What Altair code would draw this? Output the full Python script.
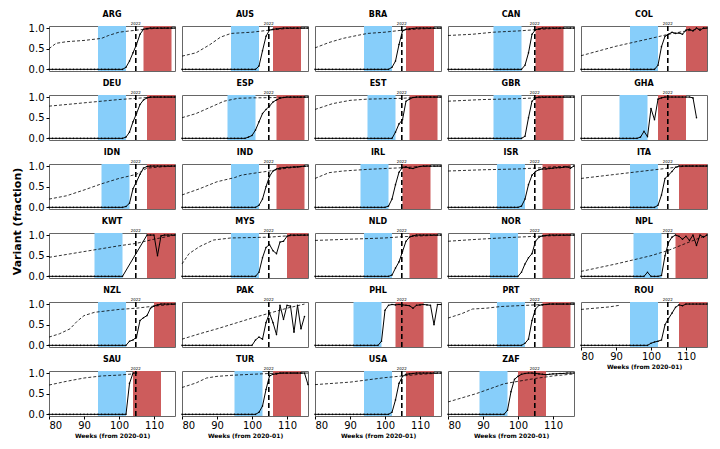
import altair as alt
import pandas as pd

COUNTRIES = ["ARG", "AUS", "BRA", "CAN", "COL",
             "DEU", "ESP", "EST", "GBR", "GHA",
             "IDN", "IND", "IRL", "ISR", "ITA",
             "KWT", "MYS", "NLD", "NOR", "NPL",
             "NZL", "PAK", "PHL", "PRT", "ROU",
             "SAU", "TUR", "USA", "ZAF"]

# shaded windows (weeks from 2020-01)
BLUE = {"ARG": (94, 102), "AUS": (94, 102), "BRA": (94, 102), "CAN": (93, 101), "COL": (94, 102),
        "DEU": (94, 102), "ESP": (93, 101), "EST": (95, 103), "GBR": (93, 101), "GHA": (91, 99),
        "IDN": (95, 103), "IND": (94, 102), "IRL": (93, 101), "ISR": (94, 102), "ITA": (94, 102),
        "KWT": (93, 101), "MYS": (94, 102), "NLD": (94, 102), "NOR": (92, 100), "NPL": (95, 103),
        "NZL": (94, 102), "PHL": (91, 99), "PRT": (94, 102), "ROU": (94, 102),
        "SAU": (94, 102), "TUR": (95, 103), "USA": (94, 102), "ZAF": (89, 97)}
RED = {"ARG": (107, 115), "AUS": (106, 114), "BRA": (106, 114), "CAN": (105, 113), "COL": (110, 116),
       "DEU": (108, 116), "ESP": (107, 115), "EST": (107, 115), "GBR": (105, 113), "GHA": (102, 110),
       "IDN": (108, 116), "IND": (107, 115), "IRL": (105, 113), "ISR": (107, 115), "ITA": (108, 116),
       "KWT": (108, 116), "MYS": (110, 116), "NLD": (107, 115), "NOR": (107, 115), "NPL": (107, 116),
       "NZL": (110, 116), "PHL": (103, 111), "PRT": (107, 115), "ROU": (108, 116),
       "SAU": (104, 112), "TUR": (106, 114), "USA": (106, 114), "ZAF": (100, 108)}

VLINE_WEEK = 104.8
VLINE_LABEL = "2022"
FIRST_WEEK = 80

# variant fraction: value is 0 from week 80 up to SOLID_START-1, then these weekly values (None = no sample)
SOLID_START = {"ARG": 102, "AUS": 102, "BRA": 102, "CAN": 102, "COL": 102,
               "DEU": 102, "ESP": 99, "EST": 103, "GBR": 102, "GHA": 97,
               "IDN": 102, "IND": 102, "IRL": 101, "ISR": 101, "ITA": 102,
               "KWT": 102, "MYS": 102, "NLD": 102, "NOR": 101, "NPL": 99,
               "NZL": 103, "PAK": 101, "PHL": 99, "PRT": 102, "ROU": 100,
               "SAU": 103, "TUR": 102, "USA": 102, "ZAF": 97}
SOLID = {
    "ARG": [0.05, 0.2, 0.4, 0.6, 0.85, 0.97, 0.99, 1.0, 1.0, 1.0, 1.0, 1.0, 1.0, 1.0, 1.0],
    "AUS": [0.08, 0.45, 0.8, 0.95, 0.97, 0.98, 0.99, 1.0, 1.0, 1.0, 1.0, 1.0, 1.0, 1.0, 1.0],
    "BRA": [0.05, 0.2, 0.6, 0.93, 0.97, 0.98, 0.99, 1.0, 1.0, 1.0, 1.0, 1.0, 1.0, 1.0, 1.0],
    "CAN": [0.1, 0.4, 0.85, 0.96, 0.98, 1.0, 1.0, 1.0, 1.0, 1.0, 1.0, 1.0, 1.0, 1.0, 1.0],
    "COL": [0.1, 0.55, 0.8, 0.85, 0.9, 0.87, 0.88, 0.85, 0.95, 0.97, 0.93, 1.0, 0.95, 1.0, 1.0],
    "DEU": [0.03, 0.15, 0.4, 0.6, 0.82, 0.93, 0.98, 1.0, 1.0, 1.0, 1.0, 1.0, 1.0, 1.0, 1.0],
    "ESP": [0.03, 0.07, 0.2, 0.4, 0.6, 0.7, 0.78, 0.88, 0.93, 0.97, 0.99, 1.0, 1.0, 1.0, 1.0, 1.0, 1.0, 1.0],
    "EST": [0.15, 0.35, 0.45, 0.9, 0.95, 0.99, 1.0, 1.0, 1.0, 1.0, 1.0, 1.0, 1.0, 1.0],
    "GBR": [0.05, 0.5, 0.9, 0.98, 1.0, 1.0, 1.0, 1.0, 1.0, 1.0, 1.0, 1.0, 1.0, 1.0, 1.0],
    "GHA": [0.03, 0.17, 0.04, 0.72, 0.45, 0.95, 0.98, 1.0, 1.0, 1.0, 1.0, 1.0, 1.0, 1.0, 1.0, 0.98, 0.5],
    "IDN": [0.02, 0.1, 0.45, 0.62, 0.8, 0.95, 0.99, 1.0, 1.0, 1.0, 1.0, 1.0, 1.0, 1.0, 1.0],
    "IND": [0.05, 0.2, 0.5, 0.75, 0.88, 0.93, 0.95, 0.96, 0.97, 0.97, 0.98, 0.98, 0.99, 1.0, 1.0],
    "IRL": [0.03, 0.2, 0.55, 0.85, 0.97, 0.98, 0.95, 0.94, 0.97, 0.99, 1.0, 1.0, 1.0, 1.0, 1.0, 1.0],
    "ISR": [0.03, 0.2, 0.55, 0.78, 0.87, 0.91, 0.93, 0.93, 0.94, 0.95, 0.96, 0.96, 0.97, 0.98, 0.95, 1.0],
    "ITA": [0.05, 0.3, 0.7, 0.78, 0.87, 0.97, 1.0, 1.0, 1.0, 1.0, 1.0, 1.0, 1.0, 1.0, 1.0],
    "KWT": [None, None, None, None, None, None, 1.0, 1.0, 1.0, 0.5, 0.98, 1.0, 1.0, 1.0, 1.0],
    "MYS": [0.1, 0.45, 0.7, 0.77, 0.62, 0.55, 0.83, 0.85, 0.97, 1.0, 1.0, 1.0, 1.0, 1.0, 1.0],
    "NLD": [0.03, 0.2, 0.35, 0.6, 0.85, 0.95, 0.98, 1.0, 1.0, 1.0, 1.0, 1.0, 1.0, 1.0, 1.0],
    "NOR": [0.1, 0.3, 0.45, 0.55, 0.85, 0.95, 0.98, 0.99, 1.0, 1.0, 1.0, 1.0, 1.0, 1.0, 1.0, 1.0],
    "NPL": [0.1, 0.0, 0.0, 0.0, 0.02, 0.5, 0.82, 0.95, 1.0, 0.97, 0.9, 0.97, 0.87, 1.0, 0.75, 1.0, 0.95, 1.0],
    "NZL": [0.1, 0.13, 0.2, 0.6, 0.67, 0.72, 0.9, 0.95, 0.98, 1.0, 1.0, 1.0, 1.0, 1.0],
    "PAK": [0.13, 0.2, 0.15, 0.55, 0.78, 0.55, 0.26, 0.97, 0.63, 0.97, 0.95, 0.32, 0.97, 0.4, 0.7],
    "PHL": [0.1, 0.85, 0.97, 0.99, 0.98, 0.99, 0.98, 0.97, 0.96, 0.9, 0.97, 0.98, 0.99, 0.98, 0.97, 0.5, 0.99, 0.99],
    "PRT": [0.05, 0.15, 0.6, 0.88, 0.97, 0.98, 0.99, 1.0, 1.0, 1.0, 1.0, 1.0, 1.0, 1.0, 1.0],
    "ROU": [0.05, 0.08, 0.1, 0.13, 0.5, 0.65, 0.78, 0.92, 0.98, 0.96, 1.0, 1.0, 1.0, 1.0, 1.0, 1.0, 1.0],
    "SAU": [0.75, 1.0, 1.0],
    "TUR": [0.05, 0.2, 0.6, 0.93, 0.97, 0.98, 1.0, 1.0, 1.0, 1.0, 1.0, 1.0, 1.0, 1.0, 0.72],
    "USA": [0.05, 0.35, 0.75, 0.92, 0.97, 0.98, 0.99, 1.0, 1.0, 1.0, 1.0, 1.0, 1.0, 1.0, 1.0],
    "ZAF": [0.1, 0.55, 0.85, 0.92, 0.97, 0.99, 1.0, 1.0, 0.99, 0.98, 0.97, 0.96, 0.97, 0.98, 0.98, 0.99, 0.99, 1.0, 1.0, 1.0],
}

# dashed reference curve (week, value)
DASHED_WEEKS = {
    "ARG": [80, 82, 85, 90, 95, 97, 100, 105, 110, 116],
    "AUS": [80, 84, 88, 91, 94, 100, 105, 110, 116],
    "BRA": [80, 84, 88, 92, 95, 100, 105, 110, 116],
    "CAN": [80, 87, 93, 100, 105, 110, 116],
    "COL": [80, 90, 100, 105, 110, 116],
    "DEU": [80, 90, 100, 105, 110, 116],
    "ESP": [80, 84, 88, 92, 96, 100, 116],
    "EST": [80, 85, 90, 95, 100, 105, 110, 116],
    "GBR": [80, 90, 100, 105, 110, 116],
    "IDN": [80, 85, 90, 95, 100, 105, 108, 112, 116],
    "IND": [80, 85, 90, 95, 97, 100, 105, 110, 116],
    "IRL": [80, 84, 88, 95, 100, 105, 110, 116],
    "ISR": [80, 90, 100, 105, 110, 116],
    "ITA": [80, 90, 100, 105, 110, 116],
    "KWT": [80, 90, 100, 105, 110, 116],
    "MYS": [80, 82, 85, 89, 94, 100, 105, 110, 116],
    "NLD": [80, 90, 100, 105, 116],
    "NOR": [80, 87, 95, 105, 116],
    "NPL": [80, 90, 100, 105, 110, 116],
    "NZL": [80, 83, 86, 88, 90, 93, 96, 100, 105, 110, 116],
    "PAK": [80, 85, 90, 95, 100, 105, 110, 115],
    "PRT": [80, 84, 87, 91, 95, 100, 105, 110, 116],
    "ROU": [80, 84, 88, 91],
    "SAU": [80, 85, 90, 95, 100, 104],
    "TUR": [80, 84, 87, 90, 95, 100, 105, 110, 116],
    "USA": [80, 90, 100, 105, 110, 116],
    "ZAF": [80, 84, 88, 92, 96, 100, 105, 110, 116],
}
DASHED_VALUES = {
    "ARG": [0.5, 0.63, 0.67, 0.7, 0.75, 0.82, 0.9, 0.95, 0.99, 1.0],
    "AUS": [0.32, 0.4, 0.6, 0.78, 0.87, 0.9, 0.95, 0.99, 1.0],
    "BRA": [0.52, 0.65, 0.75, 0.82, 0.87, 0.9, 0.95, 0.98, 1.0],
    "CAN": [0.82, 0.85, 0.9, 0.93, 0.96, 0.99, 1.0],
    "COL": [0.33, 0.56, 0.75, 0.85, 0.93, 1.0],
    "DEU": [0.78, 0.86, 0.94, 0.97, 1.0, 1.0],
    "ESP": [0.5, 0.6, 0.75, 0.9, 0.97, 0.98, 1.0],
    "EST": [0.7, 0.84, 0.92, 0.95, 0.96, 0.97, 1.0, 1.0],
    "GBR": [0.9, 0.94, 0.96, 0.98, 1.0, 1.0],
    "IDN": [0.2, 0.28, 0.42, 0.57, 0.7, 0.8, 0.95, 0.98, 1.0],
    "IND": [0.3, 0.45, 0.62, 0.72, 0.78, 0.82, 0.88, 0.95, 1.0],
    "IRL": [0.7, 0.84, 0.88, 0.92, 0.94, 0.96, 0.99, 1.0],
    "ISR": [0.88, 0.91, 0.93, 0.95, 0.98, 1.0],
    "ITA": [0.7, 0.8, 0.9, 0.95, 1.0, 1.0],
    "KWT": [0.46, 0.6, 0.74, 0.8, 0.9, 1.0],
    "MYS": [0.3, 0.55, 0.72, 0.88, 0.93, 0.94, 0.95, 0.98, 1.0],
    "NLD": [0.87, 0.9, 0.93, 0.96, 1.0],
    "NOR": [0.85, 0.89, 0.93, 0.97, 1.0],
    "NPL": [0.12, 0.3, 0.5, 0.63, 0.8, 1.0],
    "NZL": [0.2, 0.28, 0.4, 0.58, 0.72, 0.8, 0.83, 0.87, 0.9, 0.95, 1.0],
    "PAK": [0.15, 0.28, 0.4, 0.53, 0.66, 0.78, 0.9, 1.0],
    "PRT": [0.66, 0.77, 0.88, 0.9, 0.94, 0.96, 0.98, 1.0, 1.0],
    "ROU": [0.87, 0.9, 0.93, 0.97],
    "SAU": [0.71, 0.8, 0.88, 0.93, 0.95, 0.98],
    "TUR": [0.65, 0.76, 0.88, 0.92, 0.95, 0.97, 0.99, 1.0, 1.0],
    "USA": [0.72, 0.78, 0.89, 0.93, 0.97, 1.0],
    "ZAF": [0.3, 0.4, 0.5, 0.62, 0.74, 0.8, 0.87, 0.93, 0.98],
}

X_TICKS = [80, 90, 100, 110]
Y_TICKS = [0.0, 0.5, 1.0]
X_TITLE = "Weeks (from 2020-01)"
Y_TITLE = "Variant (fraction)"

W, H = 126, 45
FONT = "DejaVu Sans"
XS = alt.Scale(domain=[80, 116], nice=False, zero=False)
YS = alt.Scale(domain=[-0.04, 1.05], nice=False, zero=False)


def solid_frame(c):
    start = SOLID_START[c]
    weeks, vals = [], []
    for w in range(FIRST_WEEK, start):
        weeks.append(w)
        vals.append(0.0)
    for k, v in enumerate(SOLID[c]):
        if v is not None:
            weeks.append(start + k)
            vals.append(v)
    return pd.DataFrame({"week": weeks, "value": vals})


def panel(i, c):
    bottom = i + 5 >= len(COUNTRIES)
    left = i % 5 == 0
    if bottom:
        xaxis = alt.Axis(values=X_TICKS, title=X_TITLE, labelFontSize=10, tickSize=3,
                         domain=False, grid=False, titleFontSize=6, titleFontWeight="bold",
                         titlePadding=2, labelPadding=1, labelColor="black", tickColor="black")
    else:
        xaxis = None
    if left:
        kw = dict(values=Y_TICKS, format=".1f", labelFontSize=10, tickSize=3, domain=False,
                  grid=False, labelPadding=2, labelColor="black", tickColor="black")
        if c == "IDN":
            kw.update(title=Y_TITLE, titleFontSize=11, titleFontWeight="bold",
                      titleY=H + 12, titlePadding=6)
        else:
            kw["title"] = None
        yaxis = alt.Axis(**kw)
    else:
        yaxis = None

    layers = []
    if c in BLUE:
        b0, b1 = BLUE[c]
        layers.append(alt.Chart(pd.DataFrame({"start": [b0], "end": [b1]})).mark_rect(color="#87CEFA").encode(
            x=alt.X("start:Q", scale=XS, axis=xaxis), x2="end:Q", y=alt.value(0), y2=alt.value(H)))
    if c in RED:
        r0, r1 = RED[c]
        layers.append(alt.Chart(pd.DataFrame({"start": [r0], "end": [r1]})).mark_rect(color="#CD5C5C").encode(
            x=alt.X("start:Q", scale=XS, axis=xaxis), x2="end:Q", y=alt.value(0), y2=alt.value(H)))
    if c in DASHED_WEEKS:
        dd = pd.DataFrame({"week": DASHED_WEEKS[c], "value": DASHED_VALUES[c]})
        layers.append(alt.Chart(dd).mark_line(color="black", strokeWidth=0.8, strokeDash=[3, 2]).encode(
            x=alt.X("week:Q", scale=XS, axis=xaxis), y=alt.Y("value:Q", scale=YS, axis=yaxis)))
    sd = solid_frame(c)
    layers.append(alt.Chart(sd).mark_line(color="black", strokeWidth=1).encode(
        x=alt.X("week:Q", scale=XS, axis=xaxis), y=alt.Y("value:Q", scale=YS, axis=yaxis)))
    layers.append(alt.Chart(sd).mark_circle(color="black", size=2.5, opacity=1).encode(
        x=alt.X("week:Q", scale=XS, axis=xaxis), y=alt.Y("value:Q", scale=YS, axis=yaxis)))
    vd = pd.DataFrame({"week": [VLINE_WEEK], "label": [VLINE_LABEL]})
    layers.append(alt.Chart(vd).mark_rule(color="black", strokeWidth=1.6, strokeDash=[5, 3]).encode(
        x=alt.X("week:Q", scale=XS, axis=xaxis), y=alt.value(0), y2=alt.value(H)))
    layers.append(alt.Chart(vd).mark_text(fontSize=4, baseline="bottom", font=FONT, color="black").encode(
        x=alt.X("week:Q", scale=XS, axis=xaxis), y=alt.value(-0.5), text="label:N"))

    return alt.layer(*layers).properties(
        width=W, height=H,
        title=alt.TitleParams(c, fontSize=8, fontWeight="bold", font=FONT, offset=3, color="black"))


panels = [panel(i, c) for i, c in enumerate(COUNTRIES)]

chart = alt.concat(*panels, columns=5, spacing={"row": 24, "column": 7}, bounds="flush").properties(
    padding={"left": 2, "top": 2, "right": 2, "bottom": 2}
).configure_view(stroke="#666666", strokeWidth=1).configure_axis(
    labelFont=FONT, titleFont=FONT
).configure_title(font=FONT)

chart.save("out.html", embed_options={"renderer": "svg", "actions": False})
